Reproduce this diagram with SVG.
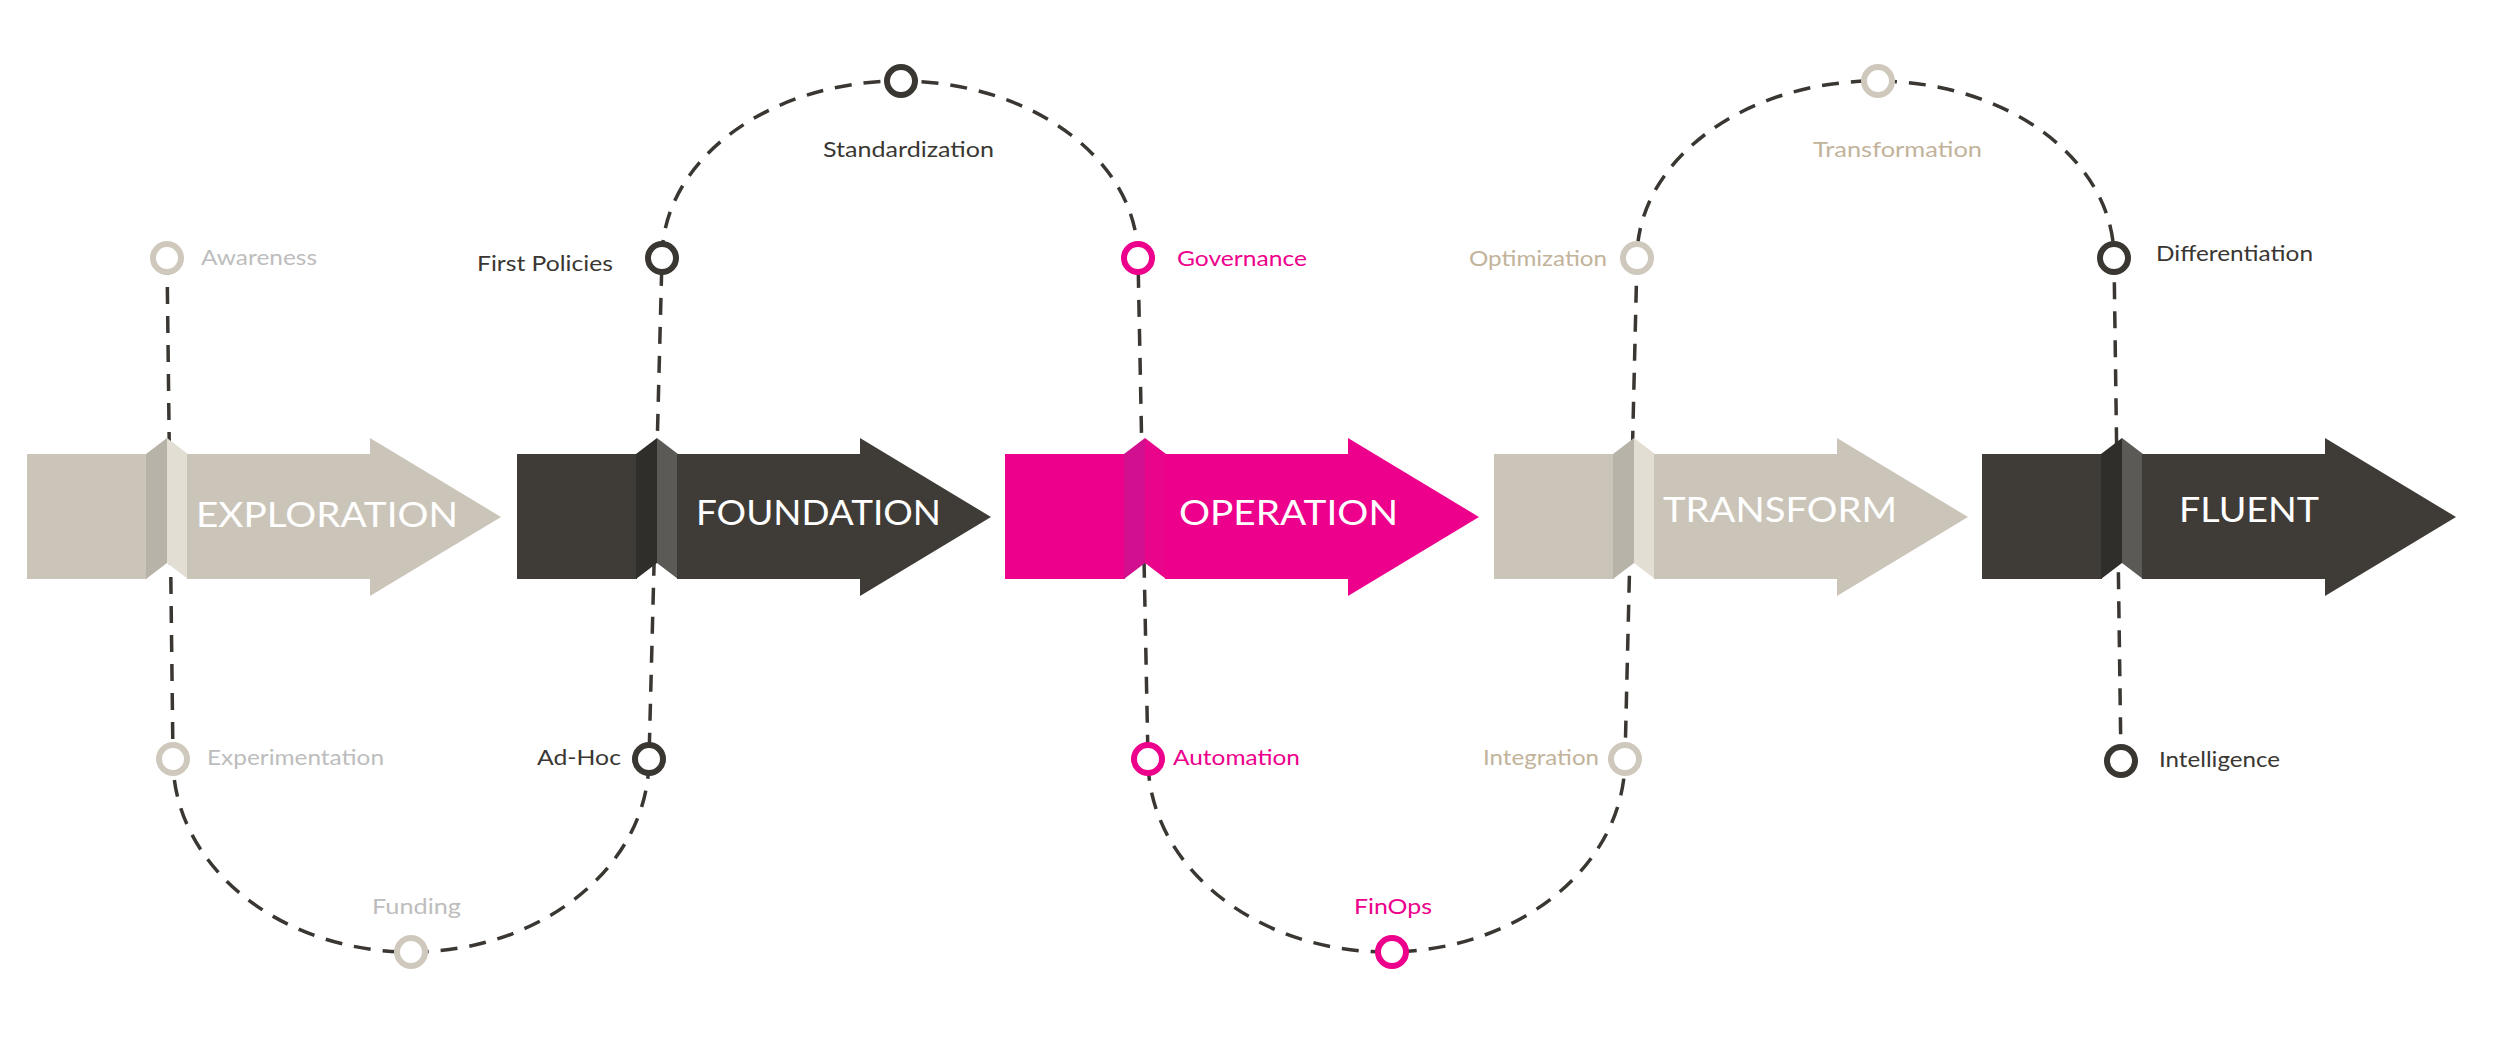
<svg xmlns="http://www.w3.org/2000/svg" width="2500" height="1037" viewBox="0 0 2500 1037">
<style>
.bg{fill:#ffffff}
.beige .b{fill:#CBC5B9}.beige .d{fill:#B7B3A8}.beige .l{fill:#E3DED3}
.dark .b{fill:#3F3C37}.dark .d{fill:#302E2A}.dark .l{fill:#5B5A56}
.pink .b{fill:#EC008C}.pink .d{fill:#D20F8E}.pink .l{fill:#E9048C}
.big{font-family:Lato,"Open Sans","Liberation Sans",sans-serif;font-weight:400;font-size:34px;fill:#ffffff}
.lbl{font-family:Lato,"Open Sans","Liberation Sans",sans-serif;font-weight:400;font-size:22px}
.ring{fill:#ffffff;stroke-width:6}
.rb{stroke:#CFC9BD}.rd{stroke:#3A3733}.rp{stroke:#EC008C}
.tg{fill:#BDBDBD}.tt{fill:#C2B39B}.td{fill:#3A3733}.tp{fill:#EC008C}
.conn{fill:none;stroke:#3A3733;stroke-width:3.5;stroke-dasharray:17 12}
</style>
<rect class="bg" x="0" y="0" width="2500" height="1037"/>
<g id="connectors">
<path class="conn" d="M167,258 L173,759 C173,866 280,952 411,952 C542,952 649,866 649,759 L662,258 C662,160 769,81 900,81 C1031,81 1138,160 1138,258 L1148,759 C1148,866 1256,952 1387,952 C1518,952 1625,866 1625,759 L1637,258 C1637,160 1745,81 1876,81 C2007,81 2114,160 2114,258 L2121,761"/>
</g>
<g id="arrow-exploration" class="beige" transform="translate(27,0)">
<rect class="b" x="0" y="454" width="120" height="125"/>
<polygon class="d" points="119,454 140,438 140,563 119,579"/>
<polygon class="l" points="140,438 161,454 161,579 140,563"/>
<polygon class="b" points="160,454 343,454 343,438 474,517 343,596 343,579 160,579"/>
</g>
<text class="big" x="196" y="527" textLength="262" lengthAdjust="spacingAndGlyphs">EXPLORATION</text>
<g id="arrow-foundation" class="dark" transform="translate(517,0)">
<rect class="b" x="0" y="454" width="120" height="125"/>
<polygon class="d" points="119,454 140,438 140,563 119,579"/>
<polygon class="l" points="140,438 161,454 161,579 140,563"/>
<polygon class="b" points="160,454 343,454 343,438 474,517 343,596 343,579 160,579"/>
</g>
<text class="big" x="696" y="525" textLength="245" lengthAdjust="spacingAndGlyphs">FOUNDATION</text>
<g id="arrow-operation" class="pink" transform="translate(1005,0)">
<rect class="b" x="0" y="454" width="120" height="125"/>
<polygon class="d" points="119,454 140,438 140,563 119,579"/>
<polygon class="l" points="140,438 161,454 161,579 140,563"/>
<polygon class="b" points="160,454 343,454 343,438 474,517 343,596 343,579 160,579"/>
</g>
<text class="big" x="1179" y="525" textLength="219" lengthAdjust="spacingAndGlyphs">OPERATION</text>
<g id="arrow-transform" class="beige" transform="translate(1494,0)">
<rect class="b" x="0" y="454" width="120" height="125"/>
<polygon class="d" points="119,454 140,438 140,563 119,579"/>
<polygon class="l" points="140,438 161,454 161,579 140,563"/>
<polygon class="b" points="160,454 343,454 343,438 474,517 343,596 343,579 160,579"/>
</g>
<text class="big" x="1663" y="522" textLength="234" lengthAdjust="spacingAndGlyphs">TRANSFORM</text>
<g id="arrow-fluent" class="dark" transform="translate(1982,0)">
<rect class="b" x="0" y="454" width="120" height="125"/>
<polygon class="d" points="119,454 140,438 140,563 119,579"/>
<polygon class="l" points="140,438 161,454 161,579 140,563"/>
<polygon class="b" points="160,454 343,454 343,438 474,517 343,596 343,579 160,579"/>
</g>
<text class="big" x="2179" y="522" textLength="140" lengthAdjust="spacingAndGlyphs">FLUENT</text>

<g id="m-awareness"><circle class="ring rb" cx="167" cy="258" r="14"/><text class="lbl tg" x="201" y="265" textLength="116" lengthAdjust="spacingAndGlyphs">Awareness</text></g>
<g id="m-experimentation"><circle class="ring rb" cx="173" cy="759" r="14"/><text class="lbl tg" x="207" y="765" textLength="177" lengthAdjust="spacingAndGlyphs">Experimentation</text></g>
<g id="m-funding"><circle class="ring rb" cx="411" cy="952" r="14"/><text class="lbl tg" x="372" y="914" textLength="89" lengthAdjust="spacingAndGlyphs">Funding</text></g>
<g id="m-adhoc"><circle class="ring rd" cx="649" cy="759" r="14"/><text class="lbl td" x="537" y="765" textLength="84" lengthAdjust="spacingAndGlyphs">Ad-Hoc</text></g>
<g id="m-firstpolicies"><circle class="ring rd" cx="662" cy="258" r="14"/><text class="lbl td" x="477" y="271" textLength="136" lengthAdjust="spacingAndGlyphs">First Policies</text></g>
<g id="m-standardization"><circle class="ring rd" cx="901" cy="81" r="14"/><text class="lbl td" x="823" y="157" textLength="171" lengthAdjust="spacingAndGlyphs">Standardization</text></g>
<g id="m-governance"><circle class="ring rp" cx="1138" cy="258" r="14"/><text class="lbl tp" x="1177" y="266" textLength="130" lengthAdjust="spacingAndGlyphs">Governance</text></g>
<g id="m-automation"><circle class="ring rp" cx="1148" cy="759" r="14"/><text class="lbl tp" x="1173" y="765" textLength="127" lengthAdjust="spacingAndGlyphs">Automation</text></g>
<g id="m-finops"><circle class="ring rp" cx="1392" cy="952" r="14"/><text class="lbl tp" x="1354" y="914" textLength="78" lengthAdjust="spacingAndGlyphs">FinOps</text></g>
<g id="m-integration"><circle class="ring rb" cx="1625" cy="759" r="14"/><text class="lbl tt" x="1483" y="765" textLength="116" lengthAdjust="spacingAndGlyphs">Integration</text></g>
<g id="m-optimization"><circle class="ring rb" cx="1637" cy="258" r="14"/><text class="lbl tt" x="1469" y="266" textLength="138" lengthAdjust="spacingAndGlyphs">Optimization</text></g>
<g id="m-transformation"><circle class="ring rb" cx="1878" cy="81" r="14"/><text class="lbl tt" x="1813" y="157" textLength="169" lengthAdjust="spacingAndGlyphs">Transformation</text></g>
<g id="m-differentiation"><circle class="ring rd" cx="2114" cy="258" r="14"/><text class="lbl td" x="2156" y="261" textLength="157" lengthAdjust="spacingAndGlyphs">Differentiation</text></g>
<g id="m-intelligence"><circle class="ring rd" cx="2121" cy="761" r="14"/><text class="lbl td" x="2159" y="767" textLength="121" lengthAdjust="spacingAndGlyphs">Intelligence</text></g>
</svg>
